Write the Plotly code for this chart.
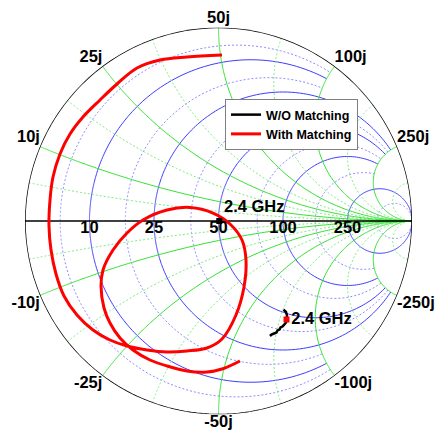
import numpy as np
import plotly.graph_objects as go

# Measured S11 (reflection coefficient, real / imaginary part) over the sweep
wo_re = [0.3359, 0.3488, 0.3540, 0.3514, 0.3488, 0.3385, 0.3307, 0.3204,
         0.3152, 0.3049, 0.2997, 0.2868, 0.2739, 0.2661]
wo_im = [-0.4574, -0.4703, -0.4884, -0.5090, -0.5245, -0.5375, -0.5452, -0.5504,
         -0.5607, -0.5659, -0.5762, -0.5814, -0.5866, -0.5943]

with_re = [0.0181, -0.1628, -0.3023, -0.4212, -0.5245, -0.6124, -0.7003, -0.7674,
           -0.8191, -0.8553, -0.8708, -0.8760, -0.8656, -0.8398, -0.7984, -0.7313,
           -0.6486, -0.5607, -0.4729, -0.3695, -0.2661, -0.1628, -0.0594, 0.0181,
           0.0904, 0.1318, 0.1421, 0.1214, 0.0594, -0.0284, -0.1473, -0.2661,
           -0.3902, -0.4729, -0.5452, -0.5969, -0.6072, -0.5917, -0.5607, -0.5090,
           -0.4419, -0.3540, -0.2661, -0.1628, -0.0594, 0.0181, 0.1111]
with_im = [0.8579, 0.8476, 0.8320, 0.7907, 0.7080, 0.6253, 0.5375, 0.4496,
           0.3463, 0.2274, 0.1085, -0.0258, -0.1499, -0.2739, -0.3876, -0.4858,
           -0.5633, -0.6150, -0.6460, -0.6667, -0.6770, -0.6718, -0.6563, -0.6098,
           -0.4858, -0.3411, -0.2016, -0.0982, -0.0155, 0.0413, 0.0698, 0.0568,
           0.0052, -0.0620, -0.1499, -0.2532, -0.3359, -0.4496, -0.5271, -0.6047,
           -0.6667, -0.7183, -0.7494, -0.7752, -0.7804, -0.7649, -0.7235]

# S11 at 2.4 GHz
wo_mark_re, wo_mark_im = [0.3514], [-0.5090]
with_mark_re, with_mark_im = [0.004], [0.0]
mark_label = "2.4 GHz"

Z0 = 50
# normalized grid values; each resistance circle is drawn up to |x| = limit
r_major = [0.2, 0.5, 1, 2, 5]
r_major_limit = [2, 5, 5, 5, np.inf]
r_minor = [0.1, 0.35, 0.75, 1.5, 3, 10]
r_minor_limit = [2, 2, 5, 5, 5, np.inf]
x_major = [0.2, 0.5, 1, 2, 5]
x_minor = [0.1, 0.35, 0.7, 1.4, 3, 10]
real_tick_ohm = [10, 25, 50, 100, 250]
imag_tick_ohm = [10, 25, 50, 100, 250]

FONT = "Liberation Sans, Arial, Helvetica, sans-serif"
BLUE, BLUE_MINOR = "#3c3cff", "#8a8aff"
GREEN, GREEN_MINOR = "#2ee02e", "#7ee87e"
MINOR_DASH = "2px,2px"


def gamma_to_z(re, im):
    g = np.asarray(re) + 1j * np.asarray(im)
    return (1 + g) / (1 - g)


sweep = np.logspace(-3, 5, 600)
r_sweep = np.concatenate([[0.0], sweep])


def x_range(limit):
    s = sweep[sweep <= limit]
    if np.isfinite(limit):
        s = np.append(s, limit)
    return np.concatenate([-s[::-1], [0.0], s])


fig = go.Figure()


def add_line(real, imag, color, width=1, dash="solid"):
    fig.add_trace(go.Scattersmith(real=real, imag=imag, mode="lines",
                                  line=dict(color=color, width=width, dash=dash),
                                  showlegend=False, hoverinfo="skip"))


# constant-resistance circles
for r, lim in zip(r_minor, r_minor_limit):
    xs = x_range(lim)
    add_line(np.full_like(xs, r), xs, BLUE_MINOR, 1, MINOR_DASH)
for r, lim in zip(r_major, r_major_limit):
    xs = x_range(lim)
    add_line(np.full_like(xs, r), xs, BLUE, 1)
# constant-reactance arcs
for x in x_minor:
    for s in (1, -1):
        add_line(r_sweep, np.full_like(r_sweep, s * x), GREEN_MINOR, 1, MINOR_DASH)
for x in x_major:
    for s in (1, -1):
        add_line(r_sweep, np.full_like(r_sweep, s * x), GREEN, 1)

# outer boundary and real axis
xs = x_range(np.inf)
add_line(np.zeros_like(xs), xs, "black", 1.5)
add_line(r_sweep, np.zeros_like(r_sweep), "black", 1.5)

# measured curves
z_wo = gamma_to_z(wo_re, wo_im)
z_with = gamma_to_z(with_re, with_im)
fig.add_trace(go.Scattersmith(real=z_wo.real, imag=z_wo.imag, mode="lines",
                              name="W/O Matching",
                              line=dict(color="black", width=2.5)))
fig.add_trace(go.Scattersmith(real=z_with.real, imag=z_with.imag, mode="lines",
                              name="With Matching",
                              line=dict(color="#ff0000", width=3, shape="spline")))

label_font = dict(family=FONT, size=16.5, color="black", weight="bold")

# 2.4 GHz markers
zm = gamma_to_z(with_mark_re, with_mark_im)
fig.add_trace(go.Scattersmith(real=zm.real, imag=zm.imag, mode="markers+text",
                              marker=dict(symbol="square", size=6, color="black"),
                              text=[mark_label], textposition="top right",
                              textfont=label_font, showlegend=False, hoverinfo="skip"))
zm = gamma_to_z(wo_mark_re, wo_mark_im)
fig.add_trace(go.Scattersmith(real=zm.real, imag=zm.imag, mode="markers+text",
                              marker=dict(symbol="square", size=6, color="#ff0000"),
                              text=[mark_label], textposition="middle right",
                              textfont=label_font, showlegend=False, hoverinfo="skip"))

# tick labels (ohms)
fig.add_trace(go.Scattersmith(real=[v / Z0 for v in real_tick_ohm], imag=[0] * len(real_tick_ohm),
                              mode="text", text=[str(v) for v in real_tick_ohm],
                              textposition="bottom center", textfont=label_font,
                              showlegend=False, hoverinfo="skip"))
im_vals, im_text, im_pos = [], [], []
for v in imag_tick_ohm:
    for s in (1, -1):
        n = v / Z0
        im_vals.append(s * n)
        im_text.append(f"{'-' if s < 0 else ''}{v}j")
        horiz = "left" if n < 1 else ("center" if n == 1 else "right")
        im_pos.append(("top " if s > 0 else "bottom ") + horiz)
fig.add_trace(go.Scattersmith(real=[0] * len(im_vals), imag=im_vals, mode="text",
                              text=im_text, textposition=im_pos, textfont=label_font,
                              showlegend=False, hoverinfo="skip", cliponaxis=False))

fig.update_layout(
    width=438, height=433,
    margin=dict(l=0, r=0, t=0, b=0),
    paper_bgcolor="white",
    hovermode=False,
    smith=dict(
        domain=dict(x=[25 / 438, 412 / 438], y=[1 - 414.5 / 433, 1 - 27.5 / 433]),
        bgcolor="white",
        realaxis=dict(showgrid=False, showticklabels=False, ticks="", showline=False),
        imaginaryaxis=dict(showgrid=False, showticklabels=False, ticks="", showline=False),
    ),
    legend=dict(x=225 / 438, y=1 - 99 / 433, xanchor="left", yanchor="top",
                bgcolor="white", bordercolor="#7f7f7f", borderwidth=1,
                font=dict(family=FONT, size=12.5, color="black", weight="bold"),
                tracegroupgap=0),
)

fig.write_html("out.html")
